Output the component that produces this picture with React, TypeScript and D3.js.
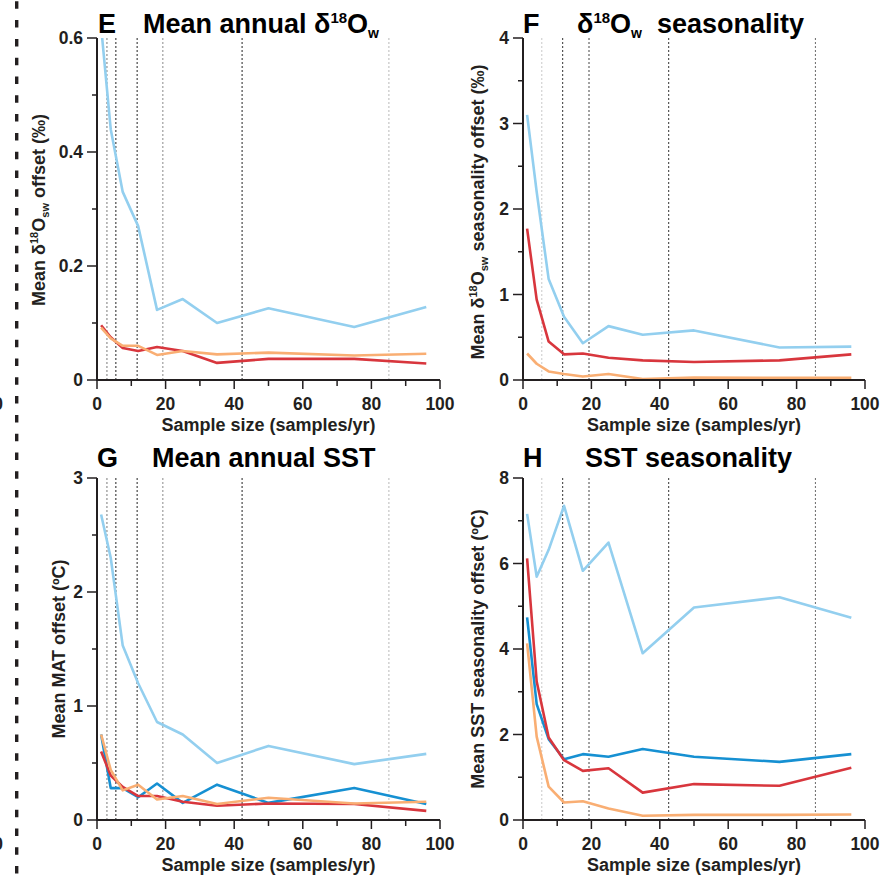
import React, { useEffect, useRef } from 'react';
import * as d3 from 'd3';

const W = 892;
const H = 879;
const FONT = '"Liberation Sans", Arial, Helvetica, sans-serif';

// sample sizes (samples/yr) shared by every series
const sampleSizes = [1.2, 4, 7.5, 12, 17.5, 25, 35, 50, 75, 96];

// E - mean annual d18Ow offset (permil)
const eLightBlue = [0.62, 0.44, 0.33, 0.27, 0.123, 0.142, 0.1, 0.126, 0.093, 0.128];
const eRed = [0.096, 0.075, 0.056, 0.051, 0.058, 0.051, 0.03, 0.037, 0.037, 0.029];
const eOrange = [0.092, 0.073, 0.06, 0.06, 0.044, 0.051, 0.045, 0.048, 0.043, 0.046];

// F - d18Ow seasonality offset (permil)
const fLightBlue = [3.1, 2.2, 1.18, 0.74, 0.43, 0.63, 0.53, 0.58, 0.38, 0.39];
const fRed = [1.77, 0.94, 0.45, 0.3, 0.31, 0.26, 0.23, 0.21, 0.23, 0.3];
const fOrange = [0.31, 0.19, 0.1, 0.07, 0.04, 0.07, 0.012, 0.03, 0.025, 0.025];

// G - mean annual SST offset (C)
const gLightBlue = [2.68, 2.3, 1.53, 1.2, 0.86, 0.75, 0.5, 0.65, 0.49, 0.58];
const gBlue = [0.75, 0.28, 0.28, 0.2, 0.32, 0.15, 0.31, 0.15, 0.28, 0.14];
const gRed = [0.6, 0.39, 0.29, 0.21, 0.21, 0.16, 0.125, 0.145, 0.14, 0.08];
const gOrange = [0.75, 0.44, 0.26, 0.31, 0.18, 0.21, 0.14, 0.195, 0.145, 0.16];

// H - SST seasonality offset (C)
const hLightBlue = [7.16, 5.69, 6.32, 7.35, 5.83, 6.49, 3.9, 4.97, 5.21, 4.73];
const hBlue = [4.74, 2.71, 1.89, 1.42, 1.54, 1.48, 1.66, 1.48, 1.36, 1.54];
const hRed = [6.12, 3.24, 1.93, 1.4, 1.15, 1.21, 0.64, 0.84, 0.8, 1.22];
const hOrange = [4.13, 1.95, 0.78, 0.41, 0.44, 0.27, 0.1, 0.12, 0.12, 0.13];

// ticks
const xTicks = [0, 20, 40, 60, 80, 100];
const xMinor = [10, 30, 50, 70, 90];
const eTicks = [0, 0.2, 0.4, 0.6];
const eMinor = [0.1, 0.3, 0.5];
const fTicks = [0, 1, 2, 3, 4];
const fMinor = [0.5, 1.5, 2.5, 3.5];
const gTicks = [0, 1, 2, 3];
const gMinor = [0.5, 1.5, 2.5];
const hTicks = [0, 2, 4, 6, 8];
const hMinor = [1, 3, 5, 7];

// dotted reference lines
const guidesLeft = [2.9, 5.5, 11.7, 19.2, 42.3, 85.1];
const guidesLeftTone = ['#7a7a7a', '#222', '#222', '#8a8a8a', '#222', '#b8b8b8'];
const guidesRight = [5.5, 11.6, 19.3, 42.6, 85.5];
const guidesRightTone = ['#c8c8c8', '#333', '#444', '#333', '#6a6a6a'];

const C_LIGHT = '#93cfef';
const C_BLUE = '#1690d2';
const C_RED = '#d8363d';
const C_ORANGE = '#f9ae73';

const AXIS = '#231f20';

type Part = { t: string; s?: number; dy?: number };

function addParts(text, parts: Part[]) {
	parts.forEach(p => {
		const ts = text.append('tspan').text(p.t);
		if (p.s) ts.attr('font-size', p.s);
		if (p.dy) ts.attr('dy', p.dy);
	});
}

export default function App() {
	const svgRef = useRef(null);

	useEffect(() => {
		const svg = d3.select(svgRef.current);
		svg.selectAll('*').remove();

		const panels = [
			{
				id: 'E', px: [97, 440], py: [38, 380], domain: [0, 0.6], ticks: eTicks, minor: eMinor, fmt: d3.format('~g'),
				guides: guidesLeft, tones: guidesLeftTone,
				series: [[eLightBlue, C_LIGHT], [eRed, C_RED], [eOrange, C_ORANGE]],
				letterX: 98, titleX: 143, titleY: 33,
				title: [{ t: 'Mean annual δ' }, { t: '18', s: 15, dy: -10 }, { t: 'O', s: 27, dy: 10 }, { t: 'w', s: 14, dy: 5 }],
				ylab: [{ t: 'Mean δ' }, { t: '18', s: 11, dy: -7 }, { t: 'O', s: 18, dy: 7 }, { t: 'sw', s: 11, dy: 4 }, { t: ' offset (‰)', s: 18, dy: -4 }],
				ylabX: 45, ylabY: 210,
			},
			{
				id: 'F', px: [523, 865], py: [38, 380], domain: [0, 4], ticks: fTicks, minor: fMinor, fmt: d3.format('d'),
				guides: guidesRight, tones: guidesRightTone,
				series: [[fLightBlue, C_LIGHT], [fRed, C_RED], [fOrange, C_ORANGE]],
				letterX: 523, titleX: 577, titleY: 33,
				title: [{ t: 'δ' }, { t: '18', s: 15, dy: -10 }, { t: 'O', s: 27, dy: 10 }, { t: 'w', s: 14, dy: 5 }, { t: '  seasonality', s: 27, dy: -5 }],
				ylab: [{ t: 'Mean δ' }, { t: '18', s: 11, dy: -7 }, { t: 'O', s: 18, dy: 7 }, { t: 'sw', s: 11, dy: 4 }, { t: ' seasonality offset (‰)', s: 18, dy: -4 }],
				ylabX: 484, ylabY: 212,
			},
			{
				id: 'G', px: [97, 440], py: [478, 820], domain: [0, 3], ticks: gTicks, minor: gMinor, fmt: d3.format('d'),
				guides: guidesLeft, tones: guidesLeftTone,
				series: [[gLightBlue, C_LIGHT], [gBlue, C_BLUE], [gRed, C_RED], [gOrange, C_ORANGE]],
				letterX: 97, titleX: 152, titleY: 467,
				title: [{ t: 'Mean annual SST' }],
				ylab: [{ t: 'Mean MAT offset (ºC)' }],
				ylabX: 65, ylabY: 649,
			},
			{
				id: 'H', px: [523, 865], py: [478, 820], domain: [0, 8], ticks: hTicks, minor: hMinor, fmt: d3.format('d'),
				guides: guidesRight, tones: guidesRightTone,
				series: [[hLightBlue, C_LIGHT], [hBlue, C_BLUE], [hRed, C_RED], [hOrange, C_ORANGE]],
				letterX: 523, titleX: 585, titleY: 467,
				title: [{ t: 'SST seasonality' }],
				ylab: [{ t: 'Mean SST seasonality offset (ºC)' }],
				ylabX: 484, ylabY: 649,
			},
		];

		// dashed separator on the left
		svg.append('line')
			.attr('x1', 16.7).attr('x2', 16.7).attr('y1', 1.3).attr('y2', H)
			.attr('stroke', '#231f20').attr('stroke-width', 3.4)
			.attr('stroke-dasharray', '7.5 11.3');

		// cut-off labels of the neighbouring panel
		[409.5, 849.5].forEach(yy => {
			svg.append('text').attr('x', 3).attr('y', yy).attr('text-anchor', 'end')
				.attr('font-family', FONT).attr('font-weight', 'bold').attr('font-size', 17.5)
				.attr('fill', AXIS).text('100');
		});

		panels.forEach((p) => {
			const x = d3.scaleLinear().domain([0, 100]).range(p.px);
			const y = d3.scaleLinear().domain(p.domain).range([p.py[1], p.py[0]]);
			const g = svg.append('g');

			const clipId = `clip-${p.id}`;
			svg.append('clipPath').attr('id', clipId).append('rect')
				.attr('x', p.px[0]).attr('y', p.py[0]).attr('width', p.px[1] - p.px[0] + 5).attr('height', p.py[1] - p.py[0]);

			// dotted guides
			g.selectAll('line.guide').data(p.guides).join('line')
				.attr('class', 'guide')
				.attr('x1', d => x(d)).attr('x2', d => x(d))
				.attr('y1', p.py[0]).attr('y2', p.py[1])
				.attr('stroke', (d, j) => p.tones[j]).attr('stroke-width', 1)
				.attr('stroke-dasharray', '2 2');

			// series
			const line = d3.line<number>().x((d, j) => x(sampleSizes[j])).y(d => y(d));
			const lines = g.append('g').attr('clip-path', `url(#${clipId})`);
			p.series.forEach(([vals, col]) => {
				lines.append('path').attr('d', line(vals as number[]))
					.attr('fill', 'none').attr('stroke', col as string).attr('stroke-width', 2.6)
					.attr('stroke-linejoin', 'round').attr('stroke-linecap', 'butt');
			});

			// axes
			g.append('line').attr('x1', p.px[0]).attr('x2', p.px[0]).attr('y1', p.py[0]).attr('y2', p.py[1] + 1)
				.attr('stroke', AXIS).attr('stroke-width', 2);
			g.append('line').attr('x1', p.px[0] - 1).attr('x2', p.px[1]).attr('y1', p.py[1]).attr('y2', p.py[1])
				.attr('stroke', AXIS).attr('stroke-width', 2);

			// y ticks
			g.selectAll('line.yt').data(p.ticks).join('line').attr('class', 'yt')
				.attr('x1', p.px[0] - 10).attr('x2', p.px[0]).attr('y1', d => y(d)).attr('y2', d => y(d))
				.attr('stroke', AXIS).attr('stroke-width', 1.5);
			g.selectAll('line.ym').data(p.minor).join('line').attr('class', 'ym')
				.attr('x1', p.px[0] - 5).attr('x2', p.px[0]).attr('y1', d => y(d)).attr('y2', d => y(d))
				.attr('stroke', AXIS).attr('stroke-width', 1.5);
			g.selectAll('text.yl').data(p.ticks).join('text').attr('class', 'yl')
				.attr('x', p.px[0] - 14).attr('y', d => y(d) + 6)
				.attr('text-anchor', 'end').attr('font-family', FONT).attr('font-weight', 'bold')
				.attr('font-size', 17.5).attr('fill', AXIS).text(d => p.fmt(d));

			// x ticks
			g.selectAll('line.xt').data(xTicks).join('line').attr('class', 'xt')
				.attr('x1', d => x(d)).attr('x2', d => x(d)).attr('y1', p.py[1]).attr('y2', p.py[1] + 9)
				.attr('stroke', AXIS).attr('stroke-width', 1.5);
			g.selectAll('line.xm').data(xMinor).join('line').attr('class', 'xm')
				.attr('x1', d => x(d)).attr('x2', d => x(d)).attr('y1', p.py[1]).attr('y2', p.py[1] + 6)
				.attr('stroke', AXIS).attr('stroke-width', 1.5);
			g.selectAll('text.xl').data(xTicks).join('text').attr('class', 'xl')
				.attr('x', d => x(d)).attr('y', p.py[1] + 29.5)
				.attr('text-anchor', 'middle').attr('font-family', FONT).attr('font-weight', 'bold')
				.attr('font-size', 17.5).attr('fill', AXIS).text(d => d);

			// x title
			g.append('text').attr('x', (p.px[0] + p.px[1]) / 2).attr('y', p.py[1] + 50.5)
				.attr('text-anchor', 'middle').attr('font-family', FONT).attr('font-weight', 'bold')
				.attr('font-size', 18).attr('fill', AXIS).text('Sample size (samples/yr)');

			// y title
			const yl = g.append('text')
				.attr('transform', `translate(${p.ylabX},${p.ylabY}) rotate(-90)`)
				.attr('text-anchor', 'middle').attr('font-family', FONT).attr('font-weight', 'bold')
				.attr('font-size', 18).attr('fill', AXIS).style('white-space', 'pre');
			addParts(yl, p.ylab);

			// panel letter + title
			g.append('text').attr('x', p.letterX).attr('y', p.titleY)
				.attr('font-family', FONT).attr('font-weight', 'bold').attr('font-size', 27)
				.attr('fill', '#000').text(p.id);
			const tt = g.append('text').attr('x', p.titleX).attr('y', p.titleY)
				.attr('font-family', FONT).attr('font-weight', 'bold').attr('font-size', 27)
				.attr('fill', '#000').style('white-space', 'pre');
			addParts(tt, p.title);
		});
	}, []);

	return (
		<div style={{ position: 'absolute', left: 0, top: 0, width: W, height: H, background: '#fff' }}>
			<svg ref={svgRef} width={W} height={H} style={{ display: 'block' }}></svg>
		</div>
	);
}
